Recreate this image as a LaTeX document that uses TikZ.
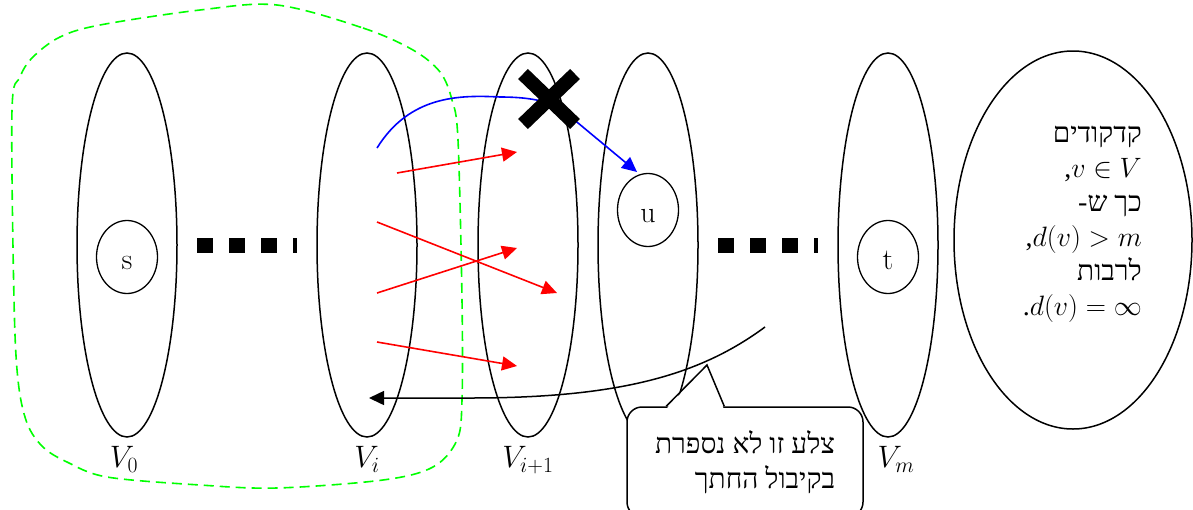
\RequirePackage{fix-cm}
\documentclass[tikz,border=0pt]{standalone}
\usepackage{fontspec}
\usetikzlibrary{positioning,arrows.meta,calc,shapes.geometric}
\TeXXeTstate=1
\newfontfamily\hebfont[Script=Hebrew]{Liberation Serif}

\begin{document}
\begin{tikzpicture}[
  x=1pt, y=-1pt,
  layer/.style={draw, ellipse, line width=1.5pt, minimum width=100pt, minimum height=384pt,
                inner sep=0pt, outer sep=0pt},
  vert/.style={draw, ellipse, line width=1.3pt, minimum width=61pt, minimum height=73pt,
               inner sep=0pt, font=\fontsize{30}{34}\selectfont, text height=24pt, text depth=0pt},
  lab/.style={font=\fontsize{31}{34}\selectfont, inner sep=0pt},
  heb/.style={font=\hebfont\fontsize{28}{34.5}\selectfont, align=right, inner sep=0pt},
  gaps/.style={line width=15pt, dash pattern=on 16pt off 16pt},
  edge/.style={-{Triangle[length=15pt,width=14pt]}, line width=1.6pt, draw=red},
  path/.style={-{Triangle[length=15pt,width=14pt]}, line width=1.6pt, draw=blue},
  back/.style={-{Triangle[length=15pt,width=14pt]}, line width=1.5pt, draw=black},
  cut/.style={line width=14pt}]
\useasboundingbox (0,0) rectangle (1193,509);
% the set reached from s
\draw[green, line width=1.6pt, dash pattern=on 10pt off 6pt]
  plot[smooth cycle, tension=0.55] coordinates {(277,5) (363,28) (413,50) (440,72) (452,100)
  (458,140) (462,300) (462,400) (457,440) (433,467) (383,480) (277,488) (200,485) (107,477)
  (67,462) (43,447) (27,423) (18,380) (14,300) (12,110) (20,77) (33,57) (60,37) (100,25) (200,10)};
% layers
\node[layer] (V0) at (127,245) {};
\node[layer] (Vi) at (367,245) {};
\node[layer] (Vip) at (528,245) {};
\node[layer] (Vu) at (648,245) {};
\node[layer] (Vm) at (888,245) {};
\node[draw, ellipse, line width=1.5pt, minimum width=238pt, minimum height=378pt] (rest) at (1073,240) {};
\node[vert] (s) at (127,257) {s};
\node[vert] (u) at (648,210) {u};
\node[vert] (t) at (888,257) {t};
\draw[gaps] ($(V0.east)+(20,0)$) -- ($(Vi.west)+(-20,0)$);
\draw[gaps] ($(Vu.east)+(20,0)$) -- ($(Vm.west)+(-20,0)$);
\node[lab, below=9pt of V0.south, xshift=-3pt] {$V_0$};
\node[lab, below=9pt of Vi.south] {$V_i$};
\node[lab, below=9pt of Vip.south] {$V_{i+1}$};
\node[lab, below=9pt of Vm.south, xshift=8pt] {$V_m$};
\node[heb, anchor=east] (info) at (1142,224) {קדקודים\\
  \beginR$v\in V$,\endR\\
  \beginR כך ש-\endR\\
  \beginR$d(v)>m$,\endR\\
  \beginR לרבות\endR\\
  \beginR$d(v)=\infty$.\endR};
% edges from V_i to V_{i+1}
\coordinate (r1) at (397,173); \coordinate (h1) at (517,152);
\coordinate (r2) at (377,222); \coordinate (h2) at (557,293);
\coordinate (r3) at (377,293); \coordinate (h3) at (517,248);
\coordinate (r4) at (377,342); \coordinate (h4) at (517,366);
\draw[edge] (r1) -- (h1);
\draw[edge] (r2) -- (h2);
\draw[edge] (r3) -- (h3);
\draw[edge] (r4) -- (h4);
\coordinate (b0) at (377,148);
\coordinate (bt) at (637,172);
\draw[path] (b0) .. controls (410,95) and (460,95) .. (500,97)
  .. controls (525,97) and (545,100) .. (560,108) -- (bt);
\coordinate (x) at (549,99);
\draw[cut] ($(x)+(-26,-25)$) -- ($(x)+(26,25)$);
\draw[cut] ($(x)+(26,-25)$) -- ($(x)+(-26,25)$);
% note
\node[draw, fill=white, line width=1.5pt, rounded corners=15pt, minimum width=236pt,
      minimum height=110pt, heb] (note) at (745,462)
  {\beginR צלע זו לא נספרת\endR\\ \beginR בקיבול החתך\endR};
\coordinate (tip) at (707,365);
\fill[white] ($(note.north west)+(41,1.5)$) -- (tip) -- ($(note.north west)+(97,1.5)$) -- cycle;
\draw[line width=1.5pt] ($(note.north west)+(40,0)$) -- (tip) -- ($(note.north west)+(98,0)$);
\coordinate (c0) at (765,327);
\coordinate (c1) at (369,398);
\draw[back] (c0) .. controls (700,375) and (620,398) .. (470,398) -- (c1);
\end{tikzpicture}
\end{document}
